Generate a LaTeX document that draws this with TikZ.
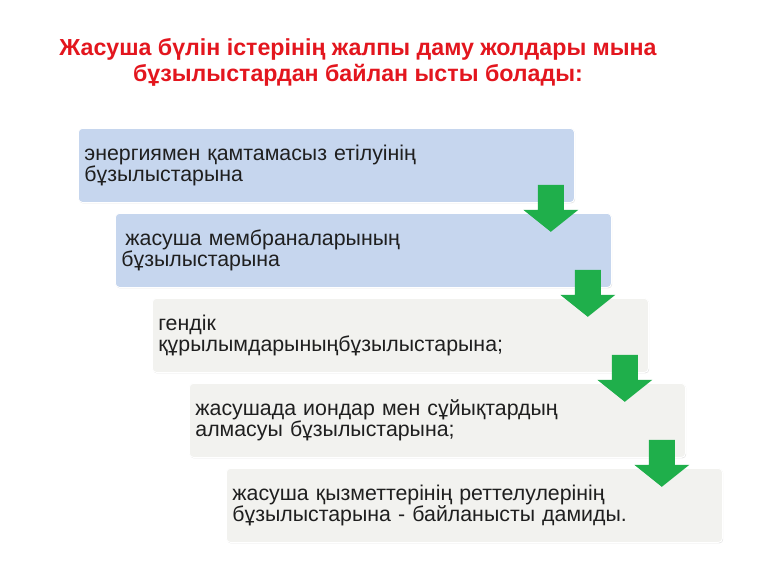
\documentclass[tikz,border=0pt]{standalone}
\usepackage{fontspec}
\setmainfont{Liberation Sans}
\usetikzlibrary{calc, shadows}
\definecolor{titlered}{HTML}{E3161E}
\definecolor{boxblue}{HTML}{C6D6EE}
\definecolor{boxgray}{HTML}{F2F2EF}
\definecolor{arrowgreen}{HTML}{1FAF4B}
\tikzstyle{heading}=[align=center, text=titlered, font=\bfseries\fontsize{17.4}{19.5}\selectfont]
\tikzstyle{stage}=[anchor=north west, rounded corners=3pt, draw=white, line width=0.6pt, minimum width=372pt, minimum height=55.5pt, text width=363pt, inner xsep=4.5pt, align=left, font=\fontsize{16}{16}\selectfont, text=black!88, drop shadow={opacity=0.18, shadow xshift=0.6pt, shadow yshift=-0.8pt}]
\newcommand{\downarr}[1]{\fill[arrowgreen] ($(#1)+(-13,0)$) -- ++(26,0) -- ++(0,25) -- ++(14.5,0) -- ++(-27.5,22) -- ++(-27.5,-22) -- ++(14.5,0) -- cycle;}

\begin{document}
\begin{tikzpicture}[x=0.75pt, y=-0.75pt]
\useasboundingbox[fill=white] (0,0) rectangle (768,576);
\node[heading] (title) at (358,62) {Жасуша бүлін істерінің жалпы даму жолдары мына\\бұзылыстардан байлан ысты болады:};
\node[stage, fill=boxblue] (b1) at (78,128) {энергиямен қамтамасыз етілуінің\\бұзылыстарына};
\node[stage, fill=boxblue] (b2) at ($(b1.north west)+(37,85)$) {\hspace{3pt}жасуша мембраналарының\\бұзылыстарына};
\node[stage, fill=boxgray] (b3) at ($(b2.north west)+(37,85)$) {гендік\\құрылымдарыныңбұзылыстарына;};
\node[stage, fill=boxgray] (b4) at ($(b3.north west)+(37,85)$) {жасушада иондар мен сұйықтардың\\алмасуы бұзылыстарына;};
\node[stage, fill=boxgray] (b5) at ($(b4.north west)+(37,85)$) {жасуша қызметтерінің реттелулерінің\\бұзылыстарына - байланысты дамиды.};
% green arrows between the stages
\foreach \i in {1,...,4}{
  \coordinate (a\i) at ($(b\i.south east)+(-24,-18)$);
  \downarr{a\i}
}
\end{tikzpicture}
\end{document}
